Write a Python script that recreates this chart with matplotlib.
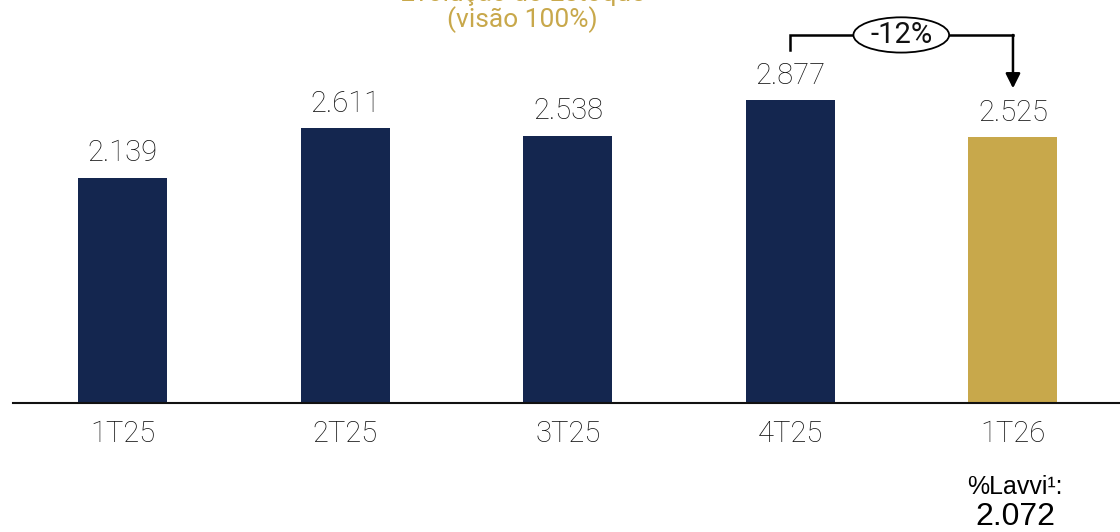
import matplotlib.pyplot as plt
from matplotlib.patches import Ellipse

# dados
trimestres = ['1T25', '2T25', '3T25', '4T25', '1T26']
estoque = [2139, 2611, 2538, 2877, 2525]
rotulos = ['2.139', '2.611', '2.538', '2.877', '2.525']
variacao = '-12%'
lavvi = '2.072'

navy = '#14264f'
gold = '#c8a84b'
cores = [navy, navy, navy, navy, gold]
fonte = 'Roboto'

fig = plt.figure(figsize=(11.2, 5.32), dpi=100)
ax = fig.add_axes([13 / 1120, 129 / 532, 1 - 13 / 1120, 403 / 532])
x = list(range(len(trimestres)))
ax.bar(x, estoque, width=0.4, color=cores, zorder=2)
ax.set_xlim(-0.494, 4.481)
ax.set_ylim(0, 3829)

for i, v in enumerate(estoque):
    ax.text(i, v + 100, rotulos[i], ha='center', va='bottom', fontsize=21,
            family=fonte, fontweight='light', color='#111111')

ax.set_xticks(x)
ax.set_xticklabels(trimestres, fontsize=21, family=fonte, fontweight='light', color='#111111')
ax.tick_params(axis='x', length=0, pad=12)
ax.set_yticks([])
for s in ['top', 'right', 'left']:
    ax.spines[s].set_visible(False)
ax.spines['bottom'].set_linewidth(1.5)
ax.spines['bottom'].set_color('#111111')

# seta de variação
yb = 3497
ax.plot([3, 3, 4], [3355, yb, yb], color='black', lw=1.8, solid_joinstyle='miter')
ax.annotate('', xy=(4, 2990), xytext=(4, yb),
            arrowprops=dict(arrowstyle='-|>', color='black', lw=1.8, mutation_scale=22,
                            shrinkA=0, shrinkB=0))
ax.add_patch(Ellipse((3.498, yb), 0.43, 335, facecolor='white', edgecolor='black', lw=1.3, zorder=3))
ax.text(3.498, yb, variacao, ha='center', va='center', fontsize=21, family=fonte,
        color='#111111', zorder=4)

# título (cortado no topo)
fig.text(522 / 1120, 1 - (-6) / 532, 'Evolução do Estoque', ha='center', va='center',
         fontsize=19, family=fonte, color=gold)
fig.text(522 / 1120, 1 - 20 / 532, '(visão 100%)', ha='center', va='center',
         fontsize=19, family=fonte, color=gold)

fig.text(1015 / 1120, 1 - 487 / 532, '%Lavvi¹:', ha='center', va='center',
         fontsize=18, family='Liberation Sans')
fig.text(1015 / 1120, 1 - 517 / 532, lavvi, ha='center', va='center',
         fontsize=23, family='Liberation Sans')

fig.savefig('out.png', dpi=100)
